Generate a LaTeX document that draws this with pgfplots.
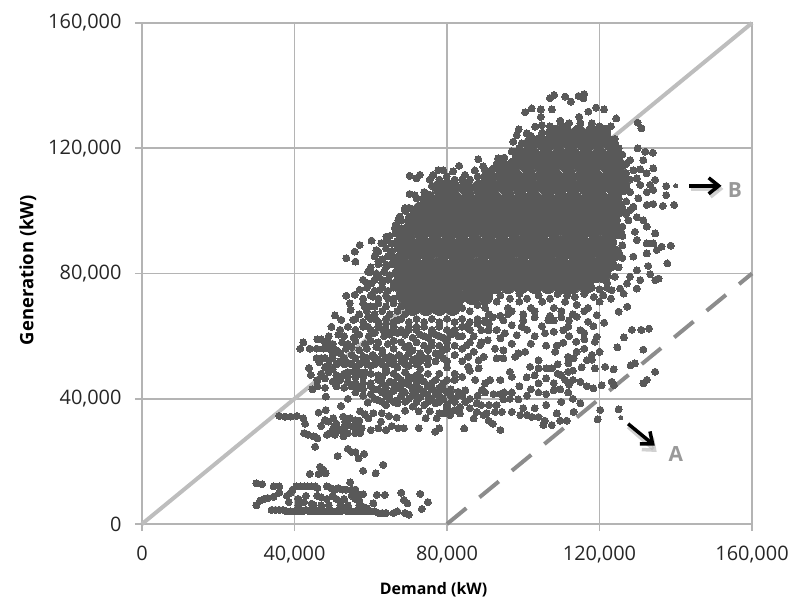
\documentclass[border=0pt]{standalone}
\usepackage{fontspec}
\setmainfont{Open Sans}
\usepackage{pgfplots}
\pgfplotsset{compat=1.18}
\usetikzlibrary{arrows.meta}
\definecolor{dots}{HTML}{595959}
\definecolor{gridc}{HTML}{B4B4B4}
\definecolor{diag}{HTML}{BDBDBD}
\definecolor{dashc}{HTML}{8C8C8C}
\definecolor{lett}{HTML}{999999}
\begin{document}
\begin{tikzpicture}
\path[use as bounding box] (-142bp,-77bp) rectangle (651bp,524bp);
\begin{axis}[
 at={(0,0)},anchor=south west,
 scale only axis,width=610bp,height=501bp,
 xmin=0,xmax=160000,ymin=0,ymax=160000,
 xtick={0,40000,80000,120000,160000},ytick={0,40000,80000,120000,160000},
 scaled ticks=false,
 /pgf/number format/fixed,/pgf/number format/1000 sep={,},/pgf/number format/assume math mode=true,
 tick align=outside,tick pos=left,tickwidth=7bp,
 tick style={gridc,line width=1.6bp},
 grid=major,grid style={gridc,line width=1.6bp},
 axis line style={gridc,line width=1.6bp},
 tick label style={font=\fontsize{20}{22}\selectfont,text=black!85},
 xticklabel style={yshift=-12bp},
 yticklabel style={xshift=-10bp},
 xlabel={\textbf{Demand (kW)}},ylabel={\textbf{Generation (kW)}},
 xlabel style={font=\fontsize{16}{18}\selectfont,text=black,at={(axis description cs:0.478,-0.1317)},anchor=center},
 ylabel style={font=\fontsize{18.5}{20}\selectfont,text=black,at={(axis description cs:-0.187,0.507)},anchor=center},
 clip=false,
]
\addplot[diag,line width=4bp] coordinates {(0,0)(160000,160000)};
\addplot[dashc,line width=4bp,dash pattern=on 25bp off 17bp] coordinates {(80000,0)(160000,80000)};
% dense core, where the readings overlap into a solid mass
\addplot[only marks,mark=*,mark size=7.5bp,color=dots,mark options={line width=0pt}] table[header=false,row sep=\\,x expr=\thisrowno{0}*1000,y expr=\thisrowno{1}*1000]{
108 125\\111 125\\114.5 125\\118 125\\121 125\\
102 121.5\\105.5 121.5\\109 121.5\\112.5 121.5\\116 121.5\\119.5 121.5\\123 121.5\\
99 118\\102.5 118\\106 118\\109.5 118\\113 118\\116.5 118\\120 118\\123.5 118\\
94 114.5\\97.5 114.5\\101 114.5\\104.5 114.5\\108 114.5\\111.5 114.5\\115 114.5\\118.5 114.5\\122 114.5\\125 114.5\\
91 111\\94.5 111\\98 111\\101.5 111\\105 111\\108.5 111\\112 111\\115.5 111\\119 111\\122.5 111\\125.5 111\\
78 107.5\\81.5 107.5\\85 107.5\\88.5 107.5\\92 107.5\\95.5 107.5\\99 107.5\\102.5 107.5\\106 107.5\\109.5 107.5\\113 107.5\\116.5 107.5\\120 107.5\\123.5 107.5\\126 107.5\\
75 104\\78.5 104\\82 104\\85.5 104\\89 104\\92.5 104\\96 104\\99.5 104\\103 104\\106.5 104\\110 104\\113.5 104\\117 104\\120.5 104\\124 104\\
73 100.5\\76.5 100.5\\80 100.5\\83.5 100.5\\87 100.5\\90.5 100.5\\94 100.5\\97.5 100.5\\101 100.5\\104.5 100.5\\108 100.5\\111.5 100.5\\115 100.5\\118.5 100.5\\122 100.5\\125 100.5\\
71 97\\74.5 97\\78 97\\81.5 97\\85 97\\88.5 97\\92 97\\95.5 97\\99 97\\102.5 97\\106 97\\109.5 97\\113 97\\116.5 97\\120 97\\123.5 97\\
70 93.5\\73 93.5\\76.5 93.5\\80 93.5\\83.5 93.5\\87 93.5\\90.5 93.5\\94 93.5\\97.5 93.5\\101 93.5\\104.5 93.5\\108 93.5\\111.5 93.5\\115 93.5\\118.5 93.5\\122 93.5\\124.5 93.5\\
70 90\\73.5 90\\77 90\\80.5 90\\84 90\\87.5 90\\91 90\\94.5 90\\98 90\\101.5 90\\105 90\\108.5 90\\112 90\\115.5 90\\119 90\\122.5 90\\
69 86.5\\72 86.5\\75.5 86.5\\79 86.5\\82.5 86.5\\86 86.5\\89.5 86.5\\93 86.5\\96.5 86.5\\100 86.5\\103.5 86.5\\107 86.5\\110.5 86.5\\114 86.5\\117.5 86.5\\121 86.5\\124 86.5\\
68 83\\71.5 83\\75 83\\78.5 83\\82 83\\85.5 83\\89 83\\92.5 83\\96 83\\99.5 83\\103 83\\106.5 83\\110 83\\113.5 83\\117 83\\120.5 83\\122.5 83\\
68 79.5\\70 79.5\\73.5 79.5\\77 79.5\\80.5 79.5\\84 79.5\\87.5 79.5\\91 79.5\\94.5 79.5\\98 79.5\\101.5 79.5\\105 79.5\\108.5 79.5\\112 79.5\\115.5 79.5\\119 79.5\\121 79.5\\
68 76\\71.5 76\\75 76\\78.5 76\\82 76\\85.5 76\\89 76\\92.5 76\\96 76\\99.5 76\\103 76\\106.5 76\\110 76\\113 76\\116.5 76\\
69 72.5\\72.5 72.5\\76 72.5\\79.5 72.5\\83 72.5\\86.5 72.5\\90 72.5\\
71 69\\74.5 69\\78 69\\81.5 69\\
};
% outlying and scattered readings
\addplot[only marks,mark=*,mark size=3.5bp,color=dots,mark options={line width=0pt}] table[header=false,row sep=\\,x expr=\thisrowno{0}*1000,y expr=\thisrowno{1}*1000]{
30 6\\31 7.5\\32 8\\33 8.3\\34.5 8.7\\30 13\\31.5 12.7\\34.5 12\\36 12\\36 10\\
34 4.5\\35 4.5\\36 4.5\\37 4.5\\38 4\\39 4\\40 4\\41 4\\42 4\\43 4.5\\44 4\\45 4\\46 4\\47 4\\48 4\\49 4\\50 4\\51 4\\52 4\\53 4.5\\54 4\\55 4\\56 4\\57 4\\58 4\\59 4\\60 4\\61 4\\62 3.5\\63 3.5\\64 3.5\\66 3.5\\67 4\\69 3.5\\70 3\\73.4 4.8\\75 7\\73 9.6\\68 10\\68.7 7.7\\69.6 6.6\\63.7 9.3\\61.6 9.3\\60.7 6.6\\63.3 18.9\\61.3 16.2\\58 17\\58.3 22.4\\56.8 21\\54 24\\55 23\\56 23\\51.3 21.7\\45.4 24.7\\46.7 18.3\\44 16\\46.3 16\\48.2 16.2\\47.6 17.3\\54.6 13.3\\
39.5 11\\40.5 12\\41.5 12\\42.5 12\\43.5 12\\44.5 12\\45.5 12\\46 11.5\\48.5 12\\49.5 11.5\\50.5 11\\51.5 11.5\\52.5 11\\53.5 11\\55 11\\56 11\\38 9\\39 10\\38.5 7\\41 8\\42.5 7\\43 9\\44.5 6.5\\46 9\\47 8.5\\48.5 8\\50 9\\51 8\\52 7\\53 8\\55 9\\56 8\\57 7.5\\58 9.5\\56.5 9.5\\54 6\\49 6\\45 6\\41 6\\52 6\\57 6\\58 5.5\\59 5\\47 6\\
36 34.5\\37.5 34.3\\39 34.3\\40.6 34.5\\42.3 33.8\\42.8 32\\42.5 29\\43.6 28.5\\45 28\\46 27.4\\46.3 35.6\\48.2 36.4\\48 33.2\\47 31.3\\50.2 33.8\\48.9 32.7\\50.4 31\\48.5 28.5\\49.3 29\\50.6 28.5\\52.8 28\\52.8 34.3\\53.3 32.7\\54.6 33.8\\55.9 33.2\\54 31.6\\55.4 31\\56.8 31\\57.6 30.6\\54 29\\55.9 29\\57.2 29\\60 30\\62 30.6\\64 30\\65.5 31.3\\67.2 30.6\\68.7 30.6\\72.6 30.6\\76.9 29.5\\78 30.6\\52.2 37.7\\54 40\\48.2 40.7\\44.7 43\\57.2 36\\58.5 35\\59.4 33.8\\60.7 35.4\\62.9 35.4\\64.8 34.5\\66.8 34\\62.7 32.7\\59.2 38.8\\69 36.2\\72.6 36\\75.5 36\\74.4 33.8\\77.3 33.8\\78 35.4\\80 36.4\\50 30\\51 32\\52 30\\53 31\\56 32\\57 33\\51 29.5\\53 29.5\\
42.3 58\\41.5 56\\44 56\\45.8 56\\47.6 56\\45.8 53\\47 53\\46.5 51.7\\43.8 49.8\\44.3 47.6\\
49 60\\51.5 60.5\\53 60\\55.5 59.5\\57 60.5\\59.5 60\\61 61\\63.5 60\\65 60.5\\67 61\\
48 58\\50 57.5\\52.5 58\\54 57.5\\56 58.5\\58.5 57.5\\60 58.5\\62 58\\64.5 57.5\\66 58.5\\68 58\\
49 56\\51 55.5\\53.5 56\\55 56.5\\57 55.5\\59 56\\61.5 56.5\\63 55.5\\66 56\\69 56.5\\
50 54\\52 54.5\\55 54\\58 53.5\\60.5 54\\63 54.5\\65 53.5\\67.5 54\\70 54.5\\
52 52\\54 51.5\\58 52\\62 52.5\\65 51.5\\68 52\\71 52.5\\
48 50\\50 49.5\\56 50\\60 50.5\\64 49.5\\67 50\\70 50.5\\73 49.5\\
47 48\\49 48.5\\51 47.5\\53 48\\60 48\\62 47.5\\66 48\\69 48.5\\72 47.5\\75 48\\
46 46\\48 46.5\\50 45.5\\52 46\\54 45.5\\62 46\\65 45.5\\68 46\\71 46.5\\74 45.5\\77 46\\
46 44\\48 43.5\\51 44\\53 43.5\\55 44\\57 43.5\\60 44\\64 43.5\\67 44\\70 44.5\\72 43.5\\75 44\\78 43.5\\
56 42\\60 41.5\\63 42\\65 41.5\\66 42.5\\69 42\\71 41.5\\74 42\\77 41.5\\80 42\\
61 40\\62 39.5\\65 40\\67 39.5\\70 40\\73 40.5\\76 39.5\\79 40\\
64 38\\67 38.5\\71 37.5\\74 38\\77 38.5\\80 38\\
54 48.5\\55.5 48.5\\57 48.5\\58.5 48.5\\64 48.5\\52 47\\54 47\\56 47\\58 47\\63 47\\67 47\\70 47\\73 47\\56 45\\58 45\\60 45\\63 45\\66 45\\69 45\\72 45\\76 45\\79 45\\58 43\\61 43\\62 43\\66 43\\68 43\\71 43\\73 43\\76 43\\79 43\\81 43\\58 41\\64 41\\68 41\\72 41\\75 41\\78 41\\81 41\\83 41\\63 39\\66 39\\69 39\\72 39\\75 39\\78 39\\82 39\\49 51\\51 51\\53 51\\55 51\\57 51\\59 51\\61 51\\63 51\\66 51\\69 51\\72 51\\75 51\\48 53\\50 53\\53 53\\56 53\\59 53\\61 53\\64 53\\66 53\\69 53\\72 53\\74 53\\46 59\\47 59\\
84.5 30.5\\94 30\\92 32\\90.9 33\\89.6 34.8\\87 33.7\\87.8 35.8\\90.4 35.3\\92.6 35.8\\94.4 35.8\\97 35.8\\99.2 34.8\\101 34.8\\102.2 34.2\\104 34.2\\105.3 31.6\\107.5 31.6\\105.7 33\\108.8 35.3\\109.7 33\\111.4 33\\113.2 35.8\\115 38.5\\120.2 36.4\\119.5 33.4\\125 36.6\\80.8 34.8\\83.4 35.3\\82 36.4\\80 37\\79 35.3\\83.4 37.4\\81.3 39.5\\84.8 39\\87.8 38.5\\89 38\\94.8 39.8\\96.5 40\\98.7 39.8\\101 41\\106 41.5\\108 42.7\\109.7 43\\111.8 42\\111 46\\110 47.5\\111.8 48.6\\111.8 51.3\\111.8 53.4\\113.2 52.9\\115 45.4\\116.7 44\\118.4 43.3\\120.6 44.3\\123.2 45.4\\123.8 44.3\\115.3 50\\116.7 52.3\\118 52.5\\118.8 49.7\\121.5 50.2\\123.7 49.4\\128.2 50.7\\129.3 51.3\\134.6 48.6\\131.5 44.9\\132.4 46\\131.5 55.7\\124.7 56.4\\126.4 59.6\\128.5 62\\131 62\\133 62.4\\121.2 64.3\\125 67.8\\127.3 69.4\\116 56\\113.9 58.2\\108.4 55\\108.8 57\\106 57\\110.5 57.9\\102 57.6\\100.5 55\\98.7 54.5\\97.9 53.4\\94.8 52.9\\93 52.9\\92.6 56\\94.8 55.5\\97 57.6\\94 59.3\\95.2 60.9\\98.3 60.3\\99.6 63\\97 63.5\\94.8 65\\89 61.9\\90.9 61.9\\90.7 58.7\\88.7 57.1\\85.2 57.1\\87 55\\89.6 53.4\\88.3 52.3\\85.6 53.4\\88.3 49.7\\85.6 50.2\\87.4 46\\90 44.9\\91.3 46\\94 46\\89.1 42.7\\92.2 41.5\\94 41.5\\84.8 42.7\\83 42.2\\80.8 42.2\\97 47\\96.5 48.6\\100.9 46.8\\103 47.5\\104 44.9\\106 46.5\\104 49.7\\104 52.3\\106 49.7\\107.5 49.7\\101.8 50.2\\105.7 60.9\\108 61.4\\110.5 61.9\\111.8 63\\115 61.9\\104.9 63.2\\106.6 65\\118.8 58.2\\119.3 59.8\\117 64.6\\118.4 63.2\\119.3 66.7\\114 66.2\\
80 46\\82 48\\84 47\\86 49\\80 52\\82 54\\84 52\\80 56\\82 57\\84 56\\86 58\\83 60\\85 63\\87 60\\89 58\\91 64\\93 62\\96 67\\82 40\\84 41\\86 40\\88 41\\90 42\\86 37\\91 38\\93 38\\95 42\\97 42\\99 44\\102 43\\104 42\\112 44.5\\113 40\\110 39\\106 38\\103 37\\100 37\\108 45\\109 48\\109 51\\113 46\\113 49\\114 55\\116 59\\112 60\\103 60\\101 62\\100 65\\103 66\\108 65\\110 66\\112 65\\116 61\\120 55\\118 54\\
70.2 111.2\\72 110.4\\72.9 111.5\\75.5 110\\76.4 111.5\\77.7 113\\79 113\\79.9 111\\81.6 112.6\\83.2 114.4\\84.7 111.5\\87.3 112.9\\88.2 116.5\\89.5 114.2\\93.4 116.8\\70.2 105.4\\71.6 105\\69 100.9\\67.6 98.2\\67.2 97\\66.3 94.5\\64.1 91.8\\60.2 90.5\\57.1 89.1\\55.8 87\\53.6 84.9\\56 83.8\\61.5 87.5\\62.8 89.7\\62 83.8\\59.3 80.6\\58 78\\57.1 74.8\\53.6 72.9\\55.8 73.2\\54.5 70.5\\54.7 68.4\\58.4 69.5\\50.6 66.6\\49.7 63\\52.3 65.2\\55.4 65.2\\59.3 66.2\\59.3 63\\48.8 58.3\\61.5 80\\60.2 76.9\\64.1 82.8\\65.9 85.4\\67.6 89.7\\69.4 94\\62.4 74.8\\60.6 72.6\\61 69.4\\61.5 65.2\\63.3 62\\63 78\\64.5 72\\65 67\\64 64\\66 62\\67 65\\68 62\\70 62\\72 63\\74 60\\76 57\\78 54\\80 50\\78 48\\82 46\\76 61\\78 60\\80 59\\82 62\\84 60\\86 62\\88 64\\90 65\\92 66\\
69 100\\71 100.5\\68 97\\70 98\\66.5 95.5\\68 94.5\\69.5 95\\65 92\\66.5 93\\68 92\\64 90.5\\65.5 89.5\\67 90.5\\68.5 89.5\\62 87\\64 88\\65.5 87\\67 88\\61 85.5\\63 84.5\\64.5 85.5\\66 84.5\\67.5 85.5\\60 82\\62 83\\64 82\\65.5 83\\67 82\\60 80.5\\62 79.5\\63.5 80.5\\65 79.5\\66.5 80.5\\59 77\\61 78\\63 77\\64.5 78\\66 77\\59 75.5\\61 74.5\\63 75.5\\64.5 74.5\\66 75.5\\58 72\\60 73\\62 72\\64 73\\66 72\\67.5 73\\58 70.5\\60 69.5\\62 70.5\\64 69.5\\66 70.5\\68 69.5\\57 67\\59 68\\61 67\\63 68\\65 67\\67 68\\69 67\\56 65.5\\58 64.5\\60 65.5\\62 64.5\\64 65.5\\66 64.5\\68 65.5\\70 64.5\\72 65.5\\74 64.5\\52 62\\54 63\\56 62\\58 63\\60 62\\62 63\\64 62\\66 63\\68 62\\70 63\\72 62\\74 63\\76 62\\78 63\\80 62\\69 60.5\\71 59.5\\73 60.5\\75 59.5\\77 60.5\\79 59.5\\81 60.5\\70 57\\72 58\\74 57\\76 58\\78 57\\80 58\\71 55.5\\73 54.5\\75 55.5\\77 54.5\\79 55.5\\73 52\\75 53\\77 52\\79 53\\76 65.5\\78 64.5\\80 65.5\\82 64.5\\84 65.5\\86 64.5\\88 65.5\\90 64.5\\82 62\\84 63\\86 62\\
84 69\\86 68\\88 70\\90 69\\93 71\\96 69\\99 71\\102 69\\105 71\\108 69\\111 71\\114 70\\117 69\\120 71\\91 67\\94 66.5\\97 68\\100 67\\103 68\\107 66.5\\110 68\\113 67\\116 68\\94 73\\96.5 72\\99 73.5\\101 72\\104 73\\107 72\\109 73.5\\111.5 73\\113.5 72.5\\116 73.5\\118.5 72.5\\121 73\\123 72\\118 75.5\\120 75\\122 75.5\\
125 120\\126 118\\127 115\\127 112\\128 110\\128 106\\127 103\\127 99\\126 95\\126 92\\126 89\\126 85\\125 82\\124 79\\122 77\\124 123\\122 125\\123 127\\120 127\\118 128\\115 128\\112 128\\110 127.5\\107 127\\105 125\\102 124\\76 108\\74 106\\72 104\\70 101\\78 110\\80 109.5\\82 110\\84 110\\86 110\\88 111\\90 113\\92 113.5\\95 117\\97 119\\99 120\\
107 136\\108.1 137\\111 136.5\\112.5 134.9\\114.5 136.7\\116 137.3\\115.8 136\\102.2 132.7\\100.5 131.5\\104.6 132.4\\107.5 132.4\\104.6 130\\119.1 133\\121.2 132.4\\117.1 131.7\\124.4 129.5\\114.7 130\\109.7 128.8\\103.1 126.9\\104.9 127.4\\98.8 126\\98.3 124.2\\100.9 124.8\\97.4 122.1\\99.6 121.6\\104 123.2\\102.2 122.6\\130 128.2\\131 126.4\\
130 120\\132 118.9\\134 118.6\\131.5 116.2\\128 116.2\\134.1 113.6\\130.7 113.3\\132.4 112\\128.9 113\\129.8 110.4\\134.6 109.9\\133.3 108.3\\130.7 108.3\\137.5 107.9\\137.5 105\\134.1 106.7\\132.4 106\\130.2 104\\132.4 101.9\\134.1 102.2\\136.6 101.6\\139.6 101.9\\128.9 101.3\\129.8 98\\131.5 97\\127.6 97\\128 100.3\\132.4 95\\129.3 93.3\\134.6 92.8\\129.8 90.7\\132.4 89.6\\134.1 89.6\\136.3 88.6\\138.7 88.9\\135 87.5\\132.4 86.4\\128.9 85.4\\137.8 83.2\\132.8 82.4\\129.8 81\\133.3 79.8\\135.5 78.4\\134.6 77.9\\130.7 77.9\\128 79\\127.2 76.8\\129.8 75.2\\125.4 75.2\\123.2 74.7\\126.3 73.6\\
};
\addplot[only marks,mark=*,mark size=2bp,color=dots,mark options={line width=0pt}] table[header=false,row sep=\\,x expr=\thisrowno{0}*1000,y expr=\thisrowno{1}*1000]{140 108\\125.6 34\\};
\node[text=lett,font=\fontsize{21}{22}\selectfont\bfseries] at (axis cs:140000,22500) {A};
\node[text=lett,font=\fontsize{21}{22}\selectfont\bfseries] at (axis cs:155500,106500) {B};
\draw[-{Straight Barb[length=10bp,width=16bp]},black!30,line width=3.5bp,opacity=0.6] (axis cs:127500,31000) -- (axis cs:135000,23000);
\draw[-{Straight Barb[length=10bp,width=16bp]},black!30,line width=3.5bp,opacity=0.6] (axis cs:144000,107000) -- (axis cs:152500,107000);
\draw[-{Straight Barb[length=10bp,width=16bp]},black,line width=3.5bp] (axis cs:127500,32000) -- (axis cs:134500,25000);
\draw[-{Straight Barb[length=10bp,width=16bp]},black,line width=3.5bp] (axis cs:143500,108000) -- (axis cs:152000,108000);
\end{axis}
\end{tikzpicture}
\end{document}
